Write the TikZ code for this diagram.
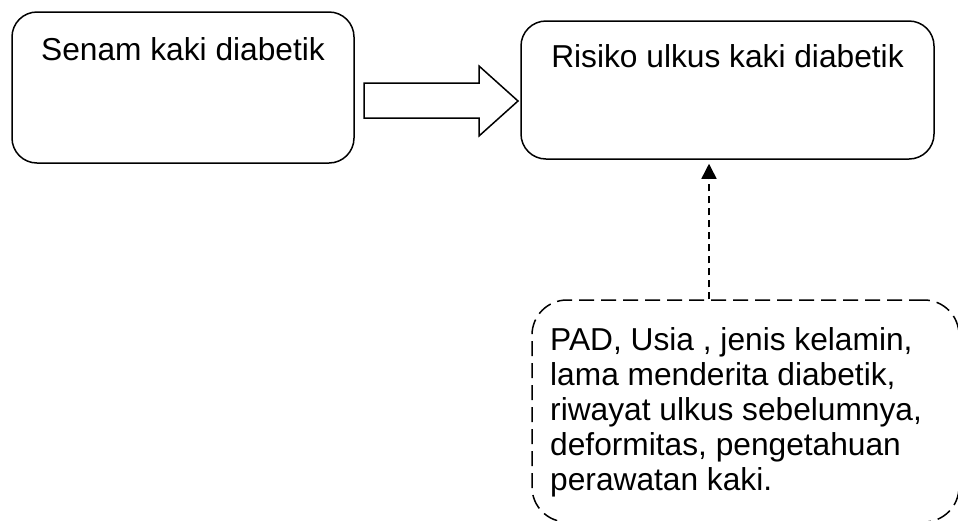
\documentclass[tikz,border=0pt]{standalone}
\usepackage{fontspec}
\setmainfont{Liberation Sans}
\usetikzlibrary{arrows.meta,calc}
\begin{document}
\begin{tikzpicture}[x=1pt,y=-1pt,
  box/.style={draw=black,line width=1.5pt,rounded corners=25pt,inner sep=0pt},
  dbox/.style={draw=black,line width=1.5pt,rounded corners=35pt,inner sep=0pt,dash pattern=on 15pt off 7pt},
  lbl/.style={font=\fontsize{31.7}{34.8}\selectfont,inner sep=0pt},
  darrow/.style={line width=1.5pt,dash pattern=on 7pt off 5pt,-{Triangle[width=15pt,length=15pt]}},
  barrow/.style={draw=black,line width=1.5pt,fill=white,line join=miter}]
\useasboundingbox (0,0) rectangle (958,520);
\clip (0,0) rectangle (958,520);
% boxes
\node[box,minimum width=342pt,minimum height=151pt] (senam) at (183,87.5) {};
\node[lbl,anchor=base] (senamtxt) at (183,60) {Senam kaki diabetik};
\node[box,minimum width=413pt,minimum height=138pt] (risiko) at (727.5,90) {};
\node[lbl,anchor=base] (risikotxt) at (727.5,67) {Risiko ulkus kaki diabetik};
\node[dbox,minimum width=427pt,minimum height=222pt] (faktor) at (745.5,411) {};
\node[lbl,anchor=base west,align=left] (faktortxt) at (550,490)
  {PAD, Usia , jenis kelamin,\\lama menderita diabetik,\\riwayat ulkus sebelumnya,\\deformitas, pengetahuan\\perawatan kaki.};
% block arrow
\draw[barrow] (364,83) -- (479,83) -- (479,66) -- (518,101) -- (479,136) -- (479,118) -- (364,118) -- cycle;
% dashed arrow
\coordinate (ax) at (709,0);
\draw[darrow,shorten >=4pt] (faktor.north -| ax) -- (risiko.south -| ax);
\end{tikzpicture}
\end{document}
